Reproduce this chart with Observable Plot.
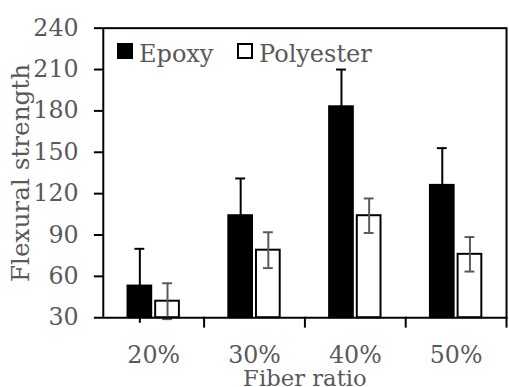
<!DOCTYPE html>
<html><head><meta charset="utf-8">
<script src="https://cdn.jsdelivr.net/npm/d3@7"></script>
<script src="https://cdn.jsdelivr.net/npm/@observablehq/plot@0.6"></script>
<style>
body{margin:0;overflow:hidden;background:#fff;}
#wrap{position:relative;width:509px;height:387px;overflow:hidden;font-family:"DejaVu Serif";}
#wrap svg text{font-family:"DejaVu Serif" !important;}
.lt{position:absolute;top:42px;font-size:24px;line-height:24px;color:#595959;white-space:nowrap;}
.sw{position:absolute;top:43px;width:16px;height:16px;box-sizing:border-box;border:2px solid #000;}
</style></head><body><div id="wrap"></div>
<script>
const ratios = ["20%", "30%", "40%", "50%"];
const series = ["Epoxy", "Polyester"];
const epoxy = [53, 104, 183, 126];
const epoxyErr = [27, 27, 27, 27];
const polyester = [42, 79, 104, 76];
const polyesterErr = [13, 13, 12.5, 12.5];
const yTicks = [30, 60, 90, 120, 150, 180, 210, 240];

const rows = ratios.flatMap((r, i) => [
  {ratio: r, series: "Epoxy", value: epoxy[i], err: epoxyErr[i]},
  {ratio: r, series: "Polyester", value: polyester[i], err: polyesterErr[i]}
]);
const ep = rows.filter(d => d.series === "Epoxy");
const po = rows.filter(d => d.series === "Polyester");

const chart = Plot.plot({
  width: 515, height: 387,
  marginLeft: 104, marginRight: 3, marginTop: 28, marginBottom: 66,
  style: {fontFamily: "DejaVu Serif", fontSize: "24px", color: "#595959", background: "white", overflow: "visible"},
  fx: {domain: ratios, padding: 0, label: null},
  x: {domain: series, paddingInner: 0.138, paddingOuter: 0.83, axis: null},
  y: {domain: [30, 240], label: null},
  color: {domain: series, range: ["black", "white"]},
  marks: [
    Plot.barY(rows, {fx: "ratio", x: "series", y1: 30, y2: "value", fill: "series", stroke: "black", strokeWidth: 2}),
    Plot.ruleX(ep, {fx: "ratio", x: "series", y1: d => d.value - d.err, y2: d => d.value + d.err, stroke: "black", strokeWidth: 2}),
    Plot.tickY(ep, {fx: "ratio", x: "series", y: d => d.value + d.err, stroke: "black", strokeWidth: 2, insetLeft: 7, insetRight: 7}),
    Plot.ruleX(po, {fx: "ratio", x: "series", y1: d => d.value - d.err, y2: d => d.value + d.err, stroke: "#595959", strokeWidth: 2}),
    Plot.tickY(po, {fx: "ratio", x: "series", y: d => d.value + d.err, stroke: "#595959", strokeWidth: 2, insetLeft: 7, insetRight: 7}),
    Plot.tickY(po, {fx: "ratio", x: "series", y: d => d.value - d.err, stroke: "#595959", strokeWidth: 2, insetLeft: 7, insetRight: 7}),
    Plot.frame({anchor: "right", insetTop: 293, insetBottom: -9, stroke: "black", strokeWidth: 2}),
    Plot.frame({facet: "super", stroke: "black", strokeWidth: 2}),
    Plot.axisY({ticks: yTicks, tickSize: 9, tickPadding: 16, stroke: "black", strokeWidth: 2, fill: "#595959"}),
    Plot.axisY({ticks: [], label: "Flexural strength", labelArrow: "none", labelAnchor: "center", labelOffset: 93, fontSize: 25, fill: "#595959"}),
    Plot.axisFx({anchor: "bottom", tickSize: 0, tickPadding: 29, fill: "#595959"}),
    Plot.axisFx({anchor: "bottom", ticks: [], label: "Fiber ratio", labelArrow: "none", labelAnchor: "center", labelOffset: 69, fontSize: 23, fill: "#595959"})
  ]
});
const wrap = document.getElementById("wrap");
wrap.appendChild(chart);
[["Epoxy", 117, "#000"], ["Polyester", 237, "#fff"]].forEach(([name, left, fill]) => {
  const s = document.createElement("div");
  s.className = "sw";
  s.style.left = left + "px";
  s.style.background = fill;
  wrap.appendChild(s);
  const t = document.createElement("div");
  t.className = "lt";
  t.style.left = (left + 22) + "px";
  t.textContent = name;
  wrap.appendChild(t);
});
</script>
</body></html>
